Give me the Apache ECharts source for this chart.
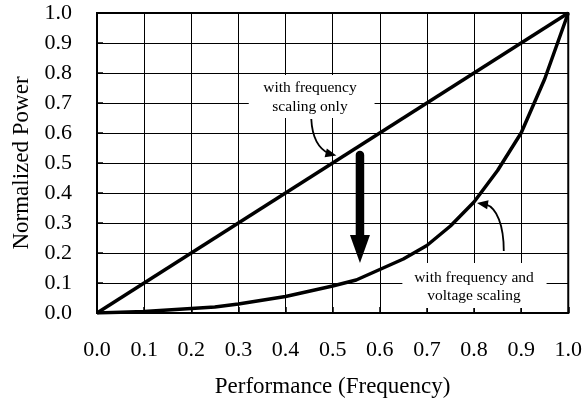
<!DOCTYPE html>
<html>
<head>
<meta charset="utf-8">
<script src="https://cdn.jsdelivr.net/npm/echarts@6/dist/echarts.min.js"></script>
<style>html,body{margin:0;padding:0;background:#fff}#c{width:585px;height:406px}</style>
</head>
<body>
<div id="c"></div>
<script>
// ---- data ----
var xTicks = [0.0,0.1,0.2,0.3,0.4,0.5,0.6,0.7,0.8,0.9,1.0];
var yTicks = [0.0,0.1,0.2,0.3,0.4,0.5,0.6,0.7,0.8,0.9,1.0];
var freqOnlyX = [0.0, 1.0];
var freqOnlyY = [0.0, 1.0];
var freqVoltX = [0.0,0.1,0.2,0.25,0.3,0.4,0.5,0.55,0.6,0.65,0.7,0.75,0.8,0.85,0.9,0.95,1.0];
var freqVoltY = [0.0,0.005,0.015,0.02,0.03,0.055,0.09,0.11,0.145,0.18,0.225,0.29,0.37,0.475,0.6,0.78,1.0];
var label1Lines = ['with frequency','scaling only'];
var label2Lines = ['with frequency and','voltage scaling'];
var xName = 'Performance (Frequency)';
var yName = 'Normalized Power';

var FONT = '"Liberation Serif","Times New Roman",serif';
function pairs(xs, ys){ return xs.map(function(x,i){return [x, ys[i]];}); }

var chart = echarts.init(document.getElementById('c'), null, {renderer:'canvas'});
var option = {
  animation:false,
  backgroundColor:'#fff',
  grid:{left:97,right:13,top:13,bottom:93,show:true,borderColor:'#000',borderWidth:2,backgroundColor:'transparent'},
  xAxis:{type:'value',min:xTicks[0],max:xTicks[xTicks.length-1],interval:0.1,
    name:xName,nameLocation:'middle',nameGap:62,
    nameTextStyle:{fontFamily:FONT,fontSize:23,color:'#000'},
    axisLine:{show:true,lineStyle:{color:'#000',width:2}},
    axisTick:{show:true,inside:true,length:6,lineStyle:{color:'#000',width:1.5}},
    axisLabel:{margin:26,fontFamily:FONT,fontSize:22,color:'#000',formatter:function(v){return v.toFixed(1);}},
    splitLine:{show:true,lineStyle:{color:'#000',width:1}}},
  yAxis:{type:'value',min:yTicks[0],max:yTicks[yTicks.length-1],interval:0.1,
    name:yName,nameLocation:'middle',nameGap:64,nameRotate:90,
    nameTextStyle:{fontFamily:FONT,fontSize:23,color:'#000'},
    axisLine:{show:true,lineStyle:{color:'#000',width:2}},
    axisTick:{show:true,inside:true,length:6,lineStyle:{color:'#000',width:1.5}},
    axisLabel:{margin:25,fontFamily:FONT,fontSize:22,color:'#000',formatter:function(v){return v.toFixed(1);}},
    splitLine:{show:true,lineStyle:{color:'#000',width:1}}},
  series:[
    {type:'line',data:pairs(freqOnlyX,freqOnlyY),showSymbol:false,symbol:'none',lineStyle:{color:'#000',width:3.5},z:5},
    {type:'line',data:pairs(freqVoltX,freqVoltY),showSymbol:false,symbol:'none',lineStyle:{color:'#000',width:3.5},z:5}
  ]
};
chart.setOption(option);

// ---- annotations (placed in data coordinates, converted via the axes) ----
function P(x,y){ return chart.convertToPixel({gridIndex:0},[x,y]); }
function arrowHead(tip, from, len, hw){
  var dx = tip[0]-from[0], dy = tip[1]-from[1], d = Math.sqrt(dx*dx+dy*dy);
  var ux = dx/d, uy = dy/d;
  var bx = tip[0]-ux*len, by = tip[1]-uy*len;
  return [[tip[0],tip[1]],[bx - uy*hw, by + ux*hw],[bx + uy*hw, by - ux*hw]];
}
function labelBox(x0,y0,x1,y1,lines,cx,ys){
  var a = P(x0,y0), b = P(x1,y1), els = [];
  els.push({type:'rect',shape:{x:Math.min(a[0],b[0]),y:Math.min(a[1],b[1]),width:Math.abs(b[0]-a[0]),height:Math.abs(b[1]-a[1])},
    style:{fill:'#fff'},z:10});
  lines.forEach(function(t,i){
    var p = P(cx,ys[i]);
    els.push({type:'text',x:p[0],y:p[1],style:{text:t,font:'15.5px '+FONT,fill:'#000',align:'center',verticalAlign:'middle'},z:11});
  });
  return els;
}
function curvedArrow(s,c1,c2,e,t){
  var S=P(s[0],s[1]),C1=P(c1[0],c1[1]),C2=P(c2[0],c2[1]),E=P(e[0],e[1]),T=P(t[0],t[1]);
  return [
    {type:'bezierCurve',shape:{x1:S[0],y1:S[1],cpx1:C1[0],cpy1:C1[1],cpx2:C2[0],cpy2:C2[1],x2:E[0],y2:E[1]},
      style:{stroke:'#000',lineWidth:1.8,fill:null},z:12},
    {type:'polygon',shape:{points:arrowHead(T,E,11,4.5)},style:{fill:'#000'},z:12}
  ];
}
var g = [];
g = g.concat(labelBox(0.322,0.793,0.589,0.65,label1Lines,0.452,[0.75,0.687]));
g = g.concat(labelBox(0.648,0.167,0.954,0.017,label2Lines,0.80,[0.117,0.057]));
g = g.concat(curvedArrow([0.4547,0.6467],[0.4568,0.58],[0.4737,0.545],[0.4926,0.531],[0.508,0.525]));
g = g.concat(curvedArrow([0.8632,0.2067],[0.8632,0.2933],[0.8484,0.35],[0.8253,0.362],[0.8063,0.3667]));
// big downward arrow
var bTop = P(0.558,0.527), bShaftEnd = P(0.558,0.26), bTip = P(0.558,0.167);
g.push({type:'line',shape:{x1:bTop[0],y1:bTop[1],x2:bShaftEnd[0],y2:bShaftEnd[1]+2},style:{stroke:'#000',lineWidth:8.5,lineCap:'round'},z:12});
g.push({type:'polygon',shape:{points:[[bTip[0],bTip[1]],[bShaftEnd[0]-10,bShaftEnd[1]],[bShaftEnd[0]+10,bShaftEnd[1]]]},style:{fill:'#000'},z:12});
chart.setOption({graphic:{elements:g}});
</script>
</body>
</html>
